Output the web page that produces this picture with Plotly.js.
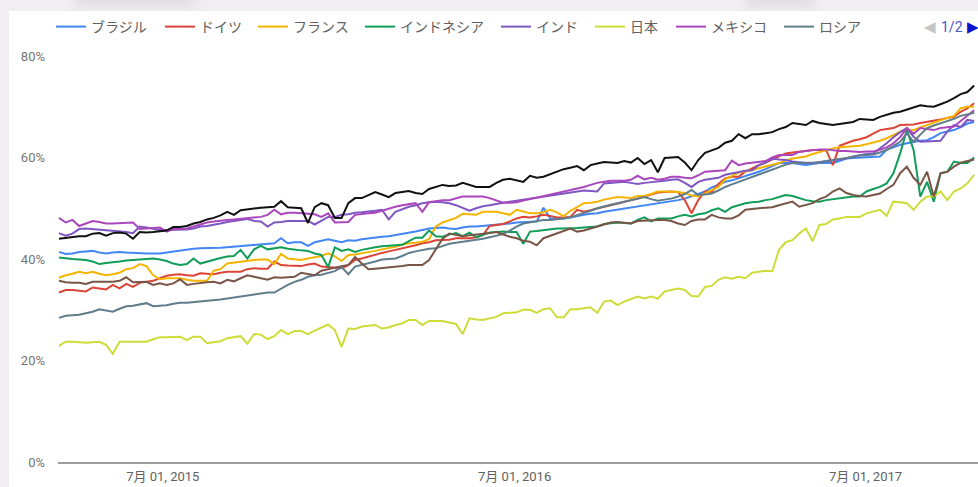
<!DOCTYPE html>
<html>
<head>
<meta charset="utf-8">
<script src="https://cdn.plot.ly/plotly-3.0.1.min.js"></script>
<style>
  html, body { margin: 0; padding: 0; }
  body { width: 978px; height: 487px; background: #f0eef2; position: relative; overflow: hidden; }
  .blob { position: absolute; background: #dedbe0; filter: blur(5px); border-radius: 6px; }
  #chart { position: absolute; left: 9px; top: 11px; width: 969px; height: 476px; background: #fff; }
</style>
</head>
<body>
<div class="blob" style="left:75px; top:-4px; width:120px; height:10px;"></div>
<div class="blob" style="left:745px; top:-4px; width:70px; height:10px;"></div>
<div id="chart"></div>
<script>
// ---- data (weekly, share in %) ----
const START_DATE = '2015-03-15';
const SERIES_NAMES = ['ブラジル', 'ドイツ', 'フランス', 'インドネシア', 'インド', '日本', 'メキシコ', 'ロシア', 'トルコ', '米国'];
const TICK_DATES = ['2015-07-01', '2016-07-01', '2017-07-01'];
const TICK_LABELS = ['7月 01, 2015', '7月 01, 2016', '7月 01, 2017'];
const Y_TICKS = [0, 20, 40, 60, 80];
const Y_TICK_LABELS = ['0%', '20%', '40%', '60%', '80%'];

const BRAZIL = [
  41.4, 41.0, 41.1, 41.4, 41.5, 41.6, 41.3, 41.1, 41.3, 41.4,
  41.3, 41.2, 41.1, 41.1, 41.1, 41.1, 41.3, 41.5, 41.7, 41.8,
  42.0, 42.1, 42.1, 42.1, 42.2, 42.3, 42.4, 42.6, 42.7, 42.8,
  42.8, 43.0, 43.1, 44.1, 43.1, 43.3, 43.3, 42.6, 43.3, 43.6,
  43.9, 43.6, 43.3, 43.7, 43.6, 43.9, 44.1, 44.3, 44.4, 44.5,
  44.7, 44.9, 45.1, 45.4, 45.7, 46.0, 46.1, 46.2, 46.0, 45.9,
  46.2, 46.4, 46.4, 46.5, 46.6, 46.8, 46.9, 47.0, 47.2, 47.3,
  47.4, 47.4, 50.1, 48.0, 48.0, 48.0, 48.2, 48.5, 48.7, 48.9,
  49.0, 49.3, 49.5, 49.7, 49.9, 50.2, 50.4, 50.6, 50.8, 51.0,
  51.2, 51.3, 51.6, 51.9, 52.3, 52.8, 53.3, 54.1, 54.6, 55.2,
  55.5, 55.9, 56.3, 56.7, 57.2, 57.7, 58.3, 58.9, 58.9, 58.9,
  58.7, 58.5, 58.7, 58.9, 58.9, 58.9, 59.3, 59.8, 59.9, 60.0,
  60.1, 60.2, 60.2, 61.5, 62.0, 62.5, 62.8, 63.1, 63.3, 63.4,
  64.0, 64.8, 65.1, 65.4, 66.0, 66.7, 67.0
];
const GERMANY = [
  33.4, 33.9, 33.9, 33.8, 33.6, 34.4, 34.2, 34.0, 34.9, 34.2,
  35.1, 34.5, 35.3, 35.5, 35.7, 36.2, 36.7, 36.9, 37.0, 36.8,
  36.7, 37.2, 37.1, 37.0, 37.3, 37.5, 37.5, 37.5, 38.0, 38.2,
  38.1, 38.1, 39.5, 38.8, 38.7, 38.6, 38.6, 38.9, 39.1, 38.5,
  38.4, 38.3, 38.2, 38.8, 39.8, 40.1, 40.5, 40.8, 41.2, 41.5,
  41.8, 42.0, 42.4, 42.7, 43.1, 43.3, 43.7, 43.8, 43.8, 44.1,
  44.1, 44.1, 44.3, 44.7, 46.5, 46.7, 46.9, 47.4, 48.0, 48.3,
  48.2, 48.4, 48.7, 48.5, 48.2, 48.2, 48.3, 49.7, 49.3, 49.6,
  50.0, 50.3, 50.6, 50.9, 51.3, 51.6, 51.9, 52.3, 52.7, 53.1,
  53.2, 53.3, 53.2, 51.6, 49.0, 51.6, 53.3, 53.2, 54.8, 55.9,
  56.2, 56.2, 57.2, 57.9, 58.5, 59.0, 59.6, 60.2, 60.8, 61.0,
  61.2, 61.3, 61.5, 61.5, 61.5, 58.5, 62.3, 62.8, 63.3, 63.6,
  64.0, 64.7, 65.4, 65.6, 65.8, 66.4, 66.5, 66.5, 66.8, 67.0,
  67.3, 67.5, 67.8, 68.0, 69.0, 69.7, 70.7
];
const FRANCE = [
  36.3, 36.8, 37.1, 37.5, 37.2, 37.5, 37.1, 36.8, 37.0, 37.3,
  38.0, 38.2, 39.0, 38.6, 36.8, 36.0, 36.2, 36.2, 36.2, 35.9,
  35.7, 35.7, 35.7, 37.7, 38.0, 39.1, 39.3, 39.4, 39.7, 39.8,
  39.9, 39.9, 39.0, 41.0, 40.1, 39.9, 39.8, 40.1, 40.3, 40.6,
  41.1, 40.5, 39.6, 40.8, 40.9, 41.1, 41.3, 41.6, 41.9, 42.1,
  42.4, 42.8, 43.1, 43.2, 43.4, 43.9, 46.4, 47.2, 47.7, 48.1,
  48.9, 48.8, 48.7, 49.3, 49.3, 49.3, 49.0, 48.7, 49.7, 49.3,
  49.0, 49.0, 49.2, 49.7, 49.2, 48.4, 49.5, 50.2, 51.0, 51.1,
  51.3, 51.7, 52.0, 52.2, 52.1, 52.0, 52.4, 52.4, 52.8, 53.3,
  53.3, 53.3, 53.2, 53.0, 52.5, 52.3, 52.9, 53.6, 54.2, 55.7,
  56.3, 57.0, 57.3, 57.5, 57.9, 58.2, 58.6, 58.9, 59.4, 59.8,
  60.0, 60.2, 60.7, 61.1, 61.5, 61.8, 62.0, 62.1, 62.2, 62.3,
  62.6, 62.9, 63.3, 63.8, 64.5, 65.1, 65.3, 65.4, 65.9, 66.4,
  66.9, 67.4, 67.8, 68.2, 69.7, 70.0, 70.0
];
const INDONESIA = [
  40.3, 40.1, 40.0, 39.9, 39.8, 39.5, 39.0, 39.2, 39.3, 39.5,
  39.7, 39.8, 39.9, 40.0, 40.1, 39.9, 39.6, 39.1, 38.8, 39.0,
  40.1, 39.1, 39.5, 39.8, 40.2, 40.5, 40.6, 41.8, 40.1, 41.9,
  42.6, 41.9, 42.1, 42.3, 42.0, 41.8, 41.7, 41.6, 41.1, 40.8,
  38.4, 42.3, 41.6, 41.9, 41.4, 41.8, 42.1, 42.3, 42.5, 42.6,
  42.7, 42.8, 43.5, 44.2, 44.2, 45.6, 44.5, 44.4, 44.8, 45.1,
  44.5, 45.2, 44.3, 44.8, 45.2, 45.3, 45.4, 45.3, 45.3, 43.0,
  45.4, 45.5, 45.7, 45.9, 46.0, 46.0, 46.0, 46.1, 46.2, 46.3,
  46.4, 46.9, 47.0, 47.2, 47.1, 47.0, 47.7, 48.2, 47.4, 48.0,
  48.0, 48.0, 48.4, 48.7, 48.4, 48.8, 49.0, 49.6, 50.0, 49.3,
  50.2, 50.6, 51.0, 51.2, 51.3, 51.6, 51.8, 52.2, 52.6, 52.4,
  52.0, 51.6, 51.4, 51.3, 51.6, 51.8, 52.0, 52.2, 52.3, 52.3,
  53.3, 53.8, 54.2, 54.9, 56.9, 60.8, 65.4, 61.5, 52.3, 55.2,
  51.3, 56.9, 57.2, 59.2, 58.9, 58.9, 60.0
];
const INDIA = [
  45.1, 44.6, 45.0, 45.9, 46.0, 45.9, 45.7, 45.6, 45.5, 45.5,
  45.3, 45.1, 46.4, 46.2, 46.0, 45.7, 45.7, 45.7, 45.8, 45.8,
  46.0, 46.4, 46.5, 46.7, 47.0, 47.3, 47.5, 47.8, 47.9, 47.5,
  47.4, 46.4, 47.2, 47.3, 47.5, 47.5, 47.5, 47.5, 46.8, 47.5,
  48.3, 48.3, 48.7, 48.8, 49.1, 49.2, 49.3, 49.5, 49.7, 47.8,
  49.3, 49.8, 50.3, 50.6, 51.0, 51.2, 51.3, 51.2, 51.0, 50.6,
  50.0, 49.5, 50.0, 50.4, 50.6, 50.9, 51.1, 51.3, 51.5, 51.7,
  51.9, 52.1, 52.3, 52.6, 52.8, 53.0, 53.1, 53.3, 53.5, 53.4,
  53.3, 54.9, 55.0, 55.0, 55.2, 55.0, 54.8, 55.0, 55.1, 55.2,
  55.4, 55.6, 55.7, 55.0, 54.2, 55.2, 55.6, 55.8, 56.0, 56.6,
  56.9, 57.2, 57.4, 57.5, 58.5, 59.0, 59.8, 59.6, 59.5, 59.2,
  59.0, 58.9, 58.9, 59.1, 59.2, 59.5, 59.6, 59.8, 60.2, 60.5,
  60.7, 60.8, 61.8, 62.8, 64.0, 65.0, 65.8, 64.1, 63.1, 63.2,
  63.3, 63.3, 65.1, 66.4, 66.0, 67.4, 67.2
];
const JAPAN = [
  22.9, 23.7, 23.7, 23.6, 23.5, 23.6, 23.7, 23.1, 21.3, 23.7,
  23.7, 23.8, 23.7, 23.7, 24.2, 24.6, 24.6, 24.7, 24.7, 24.0,
  24.7, 24.7, 23.4, 23.6, 23.8, 24.4, 24.6, 24.8, 23.3, 25.2,
  25.1, 24.2, 24.8, 26.0, 25.2, 25.8, 25.8, 25.2, 25.9, 26.5,
  27.1, 26.0, 22.7, 26.3, 26.2, 26.7, 26.8, 27.0, 26.3, 26.5,
  27.0, 27.3, 28.0, 28.0, 27.0, 27.8, 27.8, 27.8, 27.5, 27.2,
  25.2, 28.3, 28.1, 28.0, 28.3, 28.6, 29.3, 29.4, 29.5, 30.0,
  30.0, 29.4, 30.1, 30.3, 28.5, 28.5, 30.1, 30.1, 30.3, 30.5,
  29.4, 31.6, 31.8, 30.9, 31.6, 32.1, 32.6, 32.2, 32.6, 32.2,
  33.6, 33.9, 34.2, 33.9, 32.7, 32.6, 34.5, 34.7, 35.9, 36.4,
  36.1, 36.5, 36.2, 37.3, 37.5, 37.7, 37.6, 41.8, 43.3, 43.7,
  45.0, 46.0, 43.5, 46.7, 46.9, 47.8, 48.0, 48.3, 48.3, 48.3,
  49.0, 49.3, 49.7, 48.5, 51.3, 51.2, 51.0, 49.7, 51.3, 52.3,
  52.3, 53.3, 51.6, 53.3, 53.9, 54.9, 56.6
];
const MEXICO = [
  48.1, 47.2, 47.7, 46.5, 47.0, 47.5, 47.3, 47.0, 47.0, 47.1,
  47.2, 47.2, 45.9, 46.0, 46.1, 46.2, 45.4, 45.9, 45.9, 46.0,
  46.4, 46.8, 47.2, 47.4, 47.6, 47.7, 47.8, 47.9, 48.0, 48.2,
  48.3, 48.7, 49.7, 48.8, 49.1, 49.1, 49.0, 48.9, 48.8, 48.3,
  49.0, 47.2, 47.2, 47.3, 48.7, 48.9, 49.0, 49.1, 49.5, 50.0,
  50.3, 50.6, 50.8, 51.0, 49.3, 51.2, 51.4, 51.6, 51.6, 52.0,
  52.3, 52.3, 52.3, 52.3, 52.0, 51.6, 51.1, 51.1, 51.2, 51.5,
  51.8, 52.0, 52.3, 52.6, 52.9, 53.3, 53.6, 53.9, 54.2, 54.6,
  55.0, 55.2, 55.4, 55.4, 55.4, 55.6, 56.4, 55.7, 56.0, 55.6,
  55.8, 56.2, 56.2, 56.0, 55.9, 56.5, 57.2, 57.3, 57.4, 57.5,
  59.4, 58.5, 58.8, 59.0, 59.2, 59.3, 60.0, 60.5, 60.5, 60.5,
  61.1, 61.3, 61.5, 61.6, 61.6, 61.4, 61.3, 61.3, 61.2, 61.1,
  61.2, 61.2, 61.5, 62.0, 62.8, 64.0, 65.8, 64.7, 65.8, 65.6,
  65.4, 65.8, 65.9, 66.1, 67.2, 68.2, 69.3
];
const RUSSIA = [
  28.4, 28.8, 28.9, 29.0, 29.3, 29.6, 30.1, 29.8, 29.6, 30.2,
  30.7, 30.8, 31.0, 31.3, 30.7, 30.8, 30.9, 31.2, 31.4, 31.4,
  31.5, 31.6, 31.7, 31.9, 32.0, 32.2, 32.4, 32.7, 32.9, 33.1,
  33.2, 33.4, 33.4, 34.2, 34.9, 35.5, 35.9, 36.5, 36.8, 36.9,
  37.2, 37.6, 38.4, 37.0, 38.5, 38.8, 39.1, 39.5, 39.9, 40.0,
  40.1, 40.6, 41.2, 41.5, 41.8, 42.0, 42.1, 42.5, 43.0, 43.2,
  43.4, 43.5, 43.7, 44.0, 44.3, 44.6, 44.9, 45.6, 46.4, 47.0,
  47.2, 47.5, 47.7, 47.7, 47.8, 48.0, 48.2, 48.6, 49.0, 49.5,
  50.0, 50.4, 50.7, 51.0, 51.3, 51.6, 52.0, 52.2, 51.8, 51.5,
  51.7, 51.9, 52.3, 52.8, 53.6, 52.6, 52.7, 52.9, 53.5, 54.2,
  54.7, 55.2, 55.7, 56.2, 56.7, 57.2, 57.7, 58.2, 58.6, 58.9,
  58.9, 58.9, 59.0, 59.0, 59.3, 59.5, 59.6, 59.8, 60.1, 60.4,
  60.5, 60.6, 61.0, 61.5, 62.3, 63.1, 64.8, 63.1, 64.5, 65.8,
  66.3, 66.7, 67.2, 67.6, 68.2, 68.5, 68.8
];
const TURKEY = [
  35.7, 35.4, 35.3, 35.3, 35.1, 35.5, 35.5, 35.5, 35.5, 35.7,
  36.4, 35.4, 35.4, 35.5, 34.9, 35.2, 34.9, 35.2, 36.0, 34.9,
  35.1, 35.3, 35.4, 35.5, 35.2, 35.9, 35.6, 36.2, 36.8, 36.5,
  36.2, 35.9, 36.4, 36.3, 36.4, 36.5, 37.3, 37.0, 36.8, 37.7,
  38.0, 38.4, 38.6, 38.8, 40.4, 39.1, 38.0, 38.1, 38.2, 38.3,
  38.5, 38.6, 38.8, 38.8, 38.8, 39.8, 41.8, 44.0, 45.0, 44.7,
  44.5, 44.7, 44.8, 45.0, 45.1, 45.3, 44.8, 44.4, 44.1, 43.6,
  43.4, 42.7, 44.1, 44.6, 45.0, 45.6, 46.0, 45.4, 45.6, 46.0,
  46.4, 46.7, 47.2, 47.3, 47.1, 47.0, 47.5, 47.6, 47.7, 47.7,
  47.7, 47.5, 47.0, 46.7, 47.5, 47.8, 47.8, 48.7, 48.2, 48.0,
  48.0, 48.6, 49.7, 49.9, 50.0, 50.1, 50.2, 50.6, 51.0, 51.3,
  50.3, 50.7, 51.0, 51.8, 52.3, 53.3, 53.9, 53.0, 52.6, 52.4,
  52.3, 52.6, 52.9, 53.8, 54.6, 56.9, 58.2, 56.0, 54.6, 57.2,
  52.3, 56.9, 57.2, 58.2, 59.0, 59.3, 59.6
];
const USA = [
  44.0, 44.2, 44.4, 44.5, 44.5, 45.0, 45.1, 44.6, 45.1, 45.2,
  45.0, 44.0, 45.3, 45.2, 45.3, 45.5, 45.6, 46.3, 46.3, 46.5,
  47.0, 47.3, 47.8, 48.1, 48.6, 49.3, 48.7, 49.6, 49.8, 50.0,
  50.1, 50.2, 50.3, 51.4, 50.2, 50.1, 50.0, 47.1, 50.2, 51.0,
  50.6, 48.1, 48.1, 51.0, 52.0, 52.0, 52.6, 53.2, 52.7, 52.2,
  53.0, 53.2, 53.4, 53.0, 52.8, 53.8, 54.2, 54.6, 54.4, 54.5,
  55.0, 54.6, 54.2, 54.2, 54.2, 55.0, 55.6, 55.8, 55.5, 55.2,
  56.4, 56.0, 56.2, 56.7, 57.2, 57.7, 58.0, 58.3, 57.5, 58.5,
  58.8, 59.1, 59.0, 58.9, 59.3, 59.0, 59.9, 58.7, 59.5, 57.1,
  59.9, 60.0, 60.1, 59.0, 57.5, 59.5, 60.9, 61.4, 61.9, 62.9,
  63.3, 64.6, 63.8, 64.6, 64.6, 64.8, 65.0, 65.6, 66.0, 66.8,
  66.6, 66.4, 67.2, 66.8, 66.6, 66.4, 66.6, 66.8, 67.0, 67.6,
  67.5, 67.4, 68.0, 68.4, 68.8, 69.0, 69.4, 69.8, 70.3, 70.1,
  70.0, 70.5, 71.0, 71.7, 72.5, 72.9, 74.2
];

// ---- styling ----
const COLORS = ['#4285f4', '#db4437', '#f4b400', '#0f9d58', '#7e57c2', '#cddc39', '#ab47bc', '#607d8b', '#795548', '#111111'];
const LEGEND_TEXT_X = [91, 200, 293, 400, 536, 630, 711, 819]; // absolute px where each legend label starts
const CHART_LEFT = 9, CHART_TOP = 11, CHART_W = 969, CHART_H = 476;
const JP_FONT = 'Roboto, "Noto Sans CJK JP", sans-serif';

const SERIES = [BRAZIL, GERMANY, FRANCE, INDONESIA, INDIA, JAPAN, MEXICO, RUSSIA, TURKEY, USA];

function weeklyDates(start, n) {
  const t0 = Date.parse(start + 'T00:00:00Z');
  const out = [];
  for (let i = 0; i < n; i++) {
    out.push(new Date(t0 + i * 7 * 86400000).toISOString().slice(0, 10));
  }
  return out;
}

const traces = SERIES.map((vals, k) => {
  const legendId = k === 0 ? 'legend' : 'legend' + (k + 1);
  return {
    type: 'scatter',
    mode: 'lines',
    name: SERIES_NAMES[k],
    x: weeklyDates(START_DATE, vals.length),
    y: vals,
    line: { color: COLORS[k], width: 2 },
    legend: legendId,
    showlegend: k < LEGEND_TEXT_X.length,
    hovertemplate: '%{y:.1f}%<extra>' + SERIES_NAMES[k] + '</extra>'
  };
});

const layout = {
  width: CHART_W,
  height: CHART_H,
  margin: { l: 49, r: 0, t: 45, b: 25, pad: 0 },
  paper_bgcolor: '#ffffff',
  plot_bgcolor: '#ffffff',
  font: { family: JP_FONT, size: 13, color: '#757575' },
  showlegend: true,
  xaxis: {
    type: 'date',
    range: ['2015-03-14', '2017-10-26'],
    tickmode: 'array',
    tickvals: TICK_DATES,
    ticktext: TICK_LABELS,
    showgrid: false,
    zeroline: false,
    showline: true,
    linecolor: '#9e9e9e',
    linewidth: 2,
    ticks: '',
    ticklabelstandoff: 1,
    tickfont: { family: JP_FONT, size: 13, color: '#616161' },
    fixedrange: true
  },
  yaxis: {
    range: [0, 80],
    tickmode: 'array',
    tickvals: Y_TICKS,
    ticktext: Y_TICK_LABELS,
    showgrid: false,
    zeroline: false,
    showline: false,
    ticks: '',
    ticklabelstandoff: 12,
    tickfont: { family: JP_FONT, size: 13, color: '#757575' },
    fixedrange: true
  },
  annotations: [
    { xref: 'paper', yref: 'paper', x: (930 - 58) / 920, y: 1 + (45 - 16) / 406, text: '◀', showarrow: false,
      font: { family: 'DejaVu Sans', size: 15, color: '#c4c4c4' }, xanchor: 'center', yanchor: 'middle' },
    { xref: 'paper', yref: 'paper', x: (952 - 58) / 920, y: 1 + (45 - 16) / 406, text: '1/2', showarrow: false,
      font: { family: JP_FONT, size: 14, color: '#4a55c8' }, xanchor: 'center', yanchor: 'middle' },
    { xref: 'paper', yref: 'paper', x: (973 - 58) / 920, y: 1 + (45 - 16) / 406, text: '▶', showarrow: false,
      font: { family: 'DejaVu Sans', size: 15, color: '#0a14cc' }, xanchor: 'center', yanchor: 'middle' }
  ]
};

LEGEND_TEXT_X.forEach((tx, k) => {
  const key = k === 0 ? 'legend' : 'legend' + (k + 1);
  layout[key] = {
    xref: 'container', yref: 'container',
    x: (tx - 40 - CHART_LEFT) / CHART_W,
    y: 1 - (27 - CHART_TOP) / CHART_H,
    xanchor: 'left', yanchor: 'middle',
    orientation: 'h',
    bgcolor: 'rgba(0,0,0,0)',
    borderwidth: 0,
    font: { family: JP_FONT, size: 14, color: '#616161' },
    itemclick: false, itemdoubleclick: false
  };
});

Plotly.newPlot('chart', traces, layout, { displayModeBar: false, staticPlot: true });
</script>
</body>
</html>
